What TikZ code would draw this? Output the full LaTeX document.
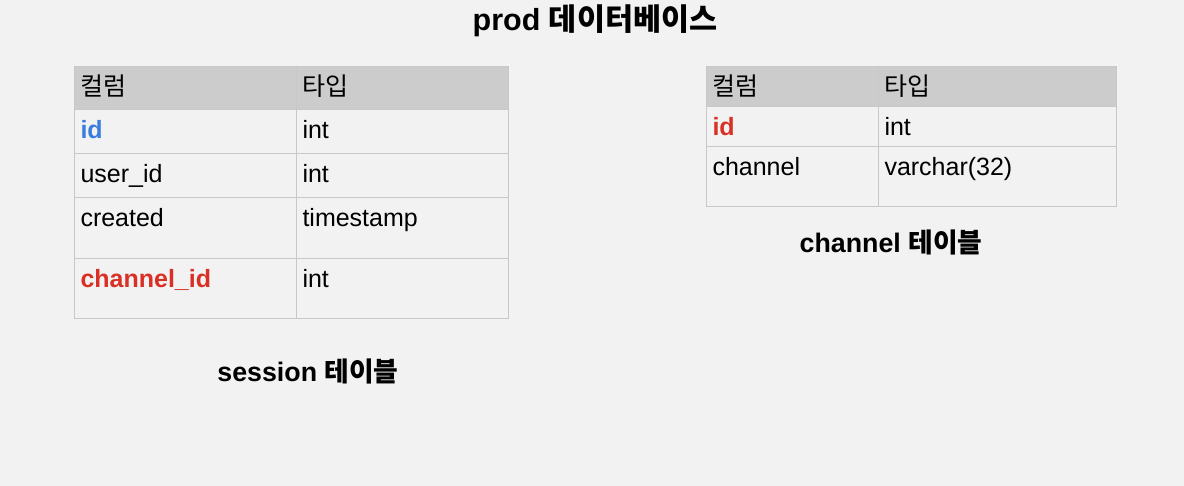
\documentclass[tikz,border=0pt]{standalone}
\usepackage{fontspec}
\setmainfont{Liberation Sans}
\newfontfamily\kr{Noto Sans CJK KR}
\definecolor{bgfill}{HTML}{F2F2F2}
\definecolor{headfill}{HTML}{CCCCCC}
\definecolor{gridline}{HTML}{C8C8C8}
\definecolor{keyblue}{HTML}{3B7DDD}
\definecolor{keyred}{HTML}{D93025}
\begin{document}
\begin{tikzpicture}[
        x=1pt, y=-1pt,
        cell/.style 2 args={
            draw=gridline,
            line width=1pt,
            rectangle,
            anchor=north west,
            inner xsep=6pt,
            inner ysep=0pt,
            text width=#1,
            align=left,
            text height=29pt,
            text depth=#2,
            font=\fontsize{25}{30}\selectfont
        },
        head/.style={fill=headfill},
        title/.style={font=\fontsize{26.8}{32}\selectfont\bfseries}
    ]
        % Page
        \useasboundingbox (0,0) rectangle (1184,486);
        \fill[bgfill] (0,0) rectangle (1184,486);

        % Title
        \node[title, font=\fontsize{30.5}{36}\selectfont\bfseries] (dbtitle) at (595,21) {prod {\kr 데이터베이스}};

        % session table
        \node[cell={210pt}{14pt}, head] (s-hcol) at (74,66) {{\kr 컬럼}};
        \node[cell={200pt}{14pt}, head] (s-htype) at (296,66) {{\kr 타입}};
        \node[cell={210pt}{15pt}] (s-id) at (74,109) {\textbf{\color{keyblue}id}};
        \node[cell={200pt}{15pt}] (s-idt) at (296,109) {int};
        \node[cell={210pt}{15pt}] (s-user) at (74,153) {user\_id};
        \node[cell={200pt}{15pt}] (s-usert) at (296,153) {int};
        \node[cell={210pt}{32pt}] (s-created) at (74,197) {created};
        \node[cell={200pt}{32pt}] (s-createdt) at (296,197) {timestamp};
        \node[cell={210pt}{31pt}] (s-chan) at (74,258) {\textbf{\color{keyred}channel\_id}};
        \node[cell={200pt}{31pt}] (s-chant) at (296,258) {int};

        % channel table
        \node[cell={160pt}{11pt}, head] (c-hcol) at (706,66) {{\kr 컬럼}};
        \node[cell={226pt}{11pt}, head] (c-htype) at (878,66) {{\kr 타입}};
        \node[cell={160pt}{11pt}] (c-id) at (706,106) {\textbf{\color{keyred}id}};
        \node[cell={226pt}{11pt}] (c-idt) at (878,106) {int};
        \node[cell={160pt}{31pt}] (c-name) at (706,146) {channel};
        \node[cell={226pt}{31pt}] (c-namet) at (878,146) {varchar(32)};

        % Table names
        \node[title] (sesslabel) at (308,371) {session {\kr 테이블}};
        \node[title] (chanlabel) at (891,242) {channel {\kr 테이블}};

    \end{tikzpicture}
\end{document}
